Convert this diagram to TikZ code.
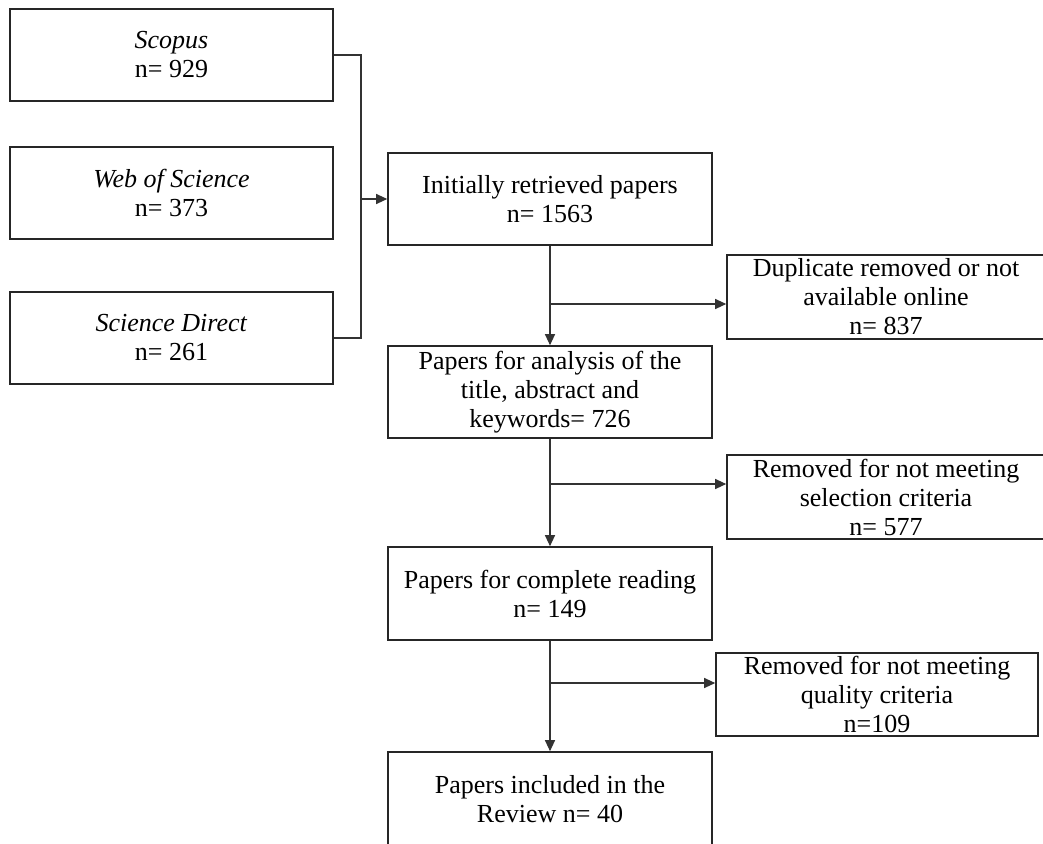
\documentclass[tikz,border=0pt]{standalone}
\usepackage{fontspec}
\setmainfont{Liberation Serif}
\newcommand{\boxfont}{\fontsize{26}{29}\selectfont}
\usetikzlibrary{arrows.meta}
\begin{document}
\begin{tikzpicture}[x=1pt,y=-1pt,
  box/.style={draw=black!85,line width=1.6pt,align=center,inner sep=0pt,
    font=\boxfont},
  link/.style={draw=black!80,line width=1.1pt},
  arr/.style={link,-{Triangle[length=11pt,width=10pt]}}]
\useasboundingbox (0,0) rectangle (1043,843);
\clip (0,0) rectangle (1043,843);
\node[box,minimum width=323pt,minimum height=92pt] (scopus) at (171.5,55) {\textit{Scopus}\\n= 929};
\node[box,minimum width=323pt,minimum height=92pt] (wos) at (171.5,193) {\textit{Web of Science}\\n= 373};
\node[box,minimum width=323pt,minimum height=92pt] (sd) at (171.5,338) {\textit{Science Direct}\\n= 261};
\node[box,minimum width=324pt,minimum height=92pt] (init) at (550,199) {Initially retrieved papers\\n= 1563};
\node[box,minimum width=318pt,minimum height=84pt] (dup) at (886,297) {Duplicate removed or not\\available online\\n= 837};
\node[box,minimum width=324pt,minimum height=92pt] (anal) at (550,392) {Papers for analysis of the\\title, abstract and\\keywords= 726};
\node[box,minimum width=318pt,minimum height=84pt] (sel) at (886,497) {Removed for not meeting\\selection criteria\\n= 577};
\node[box,minimum width=324pt,minimum height=93pt] (comp) at (550,593.5) {Papers for complete reading\\n= 149};
\node[box,minimum width=322pt,minimum height=83pt] (qual) at (877,694.5) {Removed for not meeting\\quality criteria\\n=109};
\node[box,minimum width=324pt,minimum height=94pt] (incl) at (550,799) {Papers included in the\\Review n= 40};
\coordinate (J) at (361,199);
\coordinate (b1) at (550,304);
\coordinate (b2) at (550,484);
\coordinate (b3) at (550,683);
\draw[link] (scopus.east) -| (J) |- (sd.east);
\draw[arr] (J) -- (init.west);
\draw[arr] (init.south) -- (anal.north);
\draw[arr] (anal.south) -- (comp.north);
\draw[arr] (comp.south) -- (incl.north);
\draw[arr] (b1) -- (b1 -| dup.west);
\draw[arr] (b2) -- (b2 -| sel.west);
\draw[arr] (b3) -- (b3 -| qual.west);
\end{tikzpicture}
\end{document}
